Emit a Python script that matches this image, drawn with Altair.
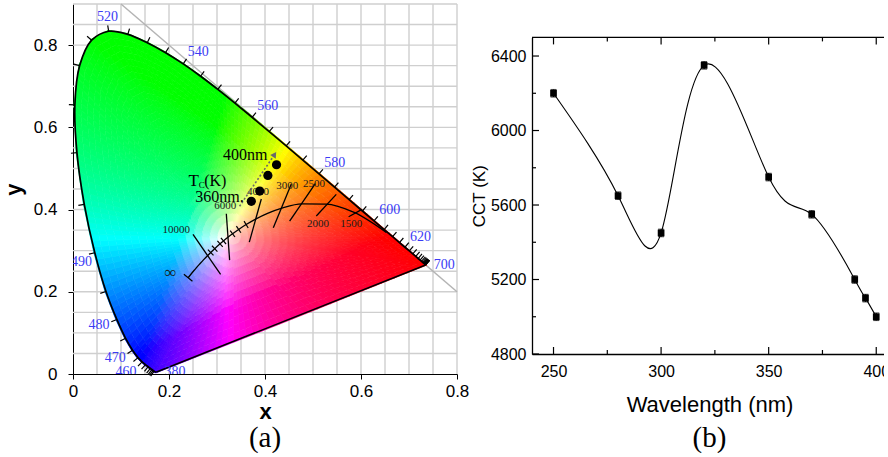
import math
import altair as alt
import pandas as pd

alt.data_transformers.disable_max_rows()

# ------------------------------------------------------------------ panel (a) data
LOCUS_WL = [380, 385, 390, 395, 400, 405, 410, 415, 420, 425, 430, 435, 440, 445, 450,
            455, 460, 465, 470, 475, 480, 485, 490, 495, 500, 505, 510, 515, 520, 525,
            530, 535, 540, 545, 550, 555, 560, 565, 570, 575, 580, 585, 590, 595, 600,
            605, 610, 615, 620, 625, 630, 635, 640, 645, 650, 655, 660, 665, 670, 675,
            680, 685, 690, 695, 700]
LOCUS_X = [0.1741, 0.1740, 0.1738, 0.1736, 0.1733, 0.1730, 0.1726, 0.1721, 0.1714, 0.1703,
           0.1689, 0.1669, 0.1644, 0.1611, 0.1566, 0.1510, 0.1440, 0.1355, 0.1241, 0.1096,
           0.0913, 0.0687, 0.0454, 0.0235, 0.0082, 0.0039, 0.0139, 0.0389, 0.0743, 0.1142,
           0.1547, 0.1929, 0.2296, 0.2658, 0.3016, 0.3373, 0.3731, 0.4087, 0.4441, 0.4788,
           0.5125, 0.5448, 0.5752, 0.6029, 0.6270, 0.6482, 0.6658, 0.6801, 0.6915, 0.7006,
           0.7079, 0.7140, 0.7190, 0.7230, 0.7260, 0.7283, 0.7300, 0.7311, 0.7320, 0.7327,
           0.7334, 0.7340, 0.7344, 0.7346, 0.7347]
LOCUS_Y = [0.0050, 0.0050, 0.0049, 0.0049, 0.0048, 0.0048, 0.0048, 0.0048, 0.0051, 0.0058,
           0.0069, 0.0086, 0.0109, 0.0138, 0.0177, 0.0227, 0.0297, 0.0399, 0.0578, 0.0868,
           0.1327, 0.2007, 0.2950, 0.4127, 0.5384, 0.6548, 0.7502, 0.8120, 0.8338, 0.8262,
           0.8059, 0.7816, 0.7543, 0.7243, 0.6923, 0.6589, 0.6245, 0.5896, 0.5547, 0.5202,
           0.4866, 0.4544, 0.4242, 0.3965, 0.3725, 0.3514, 0.3340, 0.3197, 0.3083, 0.2993,
           0.2920, 0.2859, 0.2809, 0.2770, 0.2740, 0.2717, 0.2700, 0.2689, 0.2680, 0.2673,
           0.2666, 0.2660, 0.2656, 0.2654, 0.2653]
WL_LABELS = [380, 460, 470, 480, 490, 520, 540, 560, 580, 600, 620, 700]
WL_LABEL_DIR = {380: (1.0, 0.0), 490: (-0.35, 0.65), 700: (1.0, 0.0)}
WL_TICK_FROM = 430

PLANCK_T = [1000, 1500, 2000, 2500, 3000, 3500, 4000, 4500, 5000, 5500, 6000, 6500,
            7000, 8000, 9000, 10000, 12000, 15000, 20000, 25000, None]
PLANCK_X = [0.6528, 0.5857, 0.5267, 0.4770, 0.4369, 0.4053, 0.3805, 0.3607, 0.3451,
            0.3325, 0.3221, 0.3135, 0.3064, 0.2952, 0.2869, 0.2807, 0.2718, 0.2637,
            0.2564, 0.2525, 0.2399]
PLANCK_Y = [0.3444, 0.3931, 0.4133, 0.4137, 0.4041, 0.3907, 0.3768, 0.3635, 0.3516,
            0.3411, 0.3318, 0.3237, 0.3166, 0.3048, 0.2956, 0.2884, 0.2776, 0.2672,
            0.2576, 0.2523, 0.2341]
PLANCK_MINOR = [4500, 5000, 5500, 6500, 7000, 8000, 9000]

ISO_X1 = [0.2500, 0.3194, 0.3923, 0.4548, 0.5048, 0.5485, 0.6021]
ISO_Y1 = [0.3396, 0.3898, 0.4256, 0.4621, 0.4628, 0.4370, 0.4005]
ISO_X2 = [0.3075, 0.3263, 0.3673, 0.4173, 0.4513, 0.5069, 0.5742]
ISO_Y2 = [0.2421, 0.2770, 0.3208, 0.3557, 0.3720, 0.3842, 0.3825]

TC_TEXT = ["10000", "6000", "4000", "3000", "2500", "2000", "1500"]
TC_X = [0.2152, 0.3173, 0.3854, 0.4465, 0.5021, 0.5104, 0.5798]
TC_Y = [0.3493, 0.4085, 0.4434, 0.4573, 0.4628, 0.3654, 0.3654]
INF_X, INF_Y = [0.2033], [0.2460]

SAMPLE_X = [0.3715, 0.3890, 0.4060, 0.4240]
SAMPLE_Y = [0.4200, 0.4450, 0.4830, 0.5090]
ARROW_X = [0.347, 0.420]
ARROW_Y = [0.408, 0.534]
NOTE_TEXT = ["400nm", "360nm."]
NOTE_X = [0.3590, 0.3054]
NOTE_Y = [0.5323, 0.4305]
TC_SYMBOL = ["T", "C", "(K)"]
TC_SYM_X = [0.2513, 0.2683, 0.2965]
TC_SYM_Y = [0.4694, 0.4590, 0.4694]
TC_SYM_SIZE = [17, 9, 16]

DIAG_X = [0.1, 0.8]
DIAG_Y = [0.9, 0.2]
GRID_STEP = 0.05

# ------------------------------------------------------------------ panel (b) data
WAVE = [250, 280, 300, 320, 350, 370, 390, 395, 400]
CCT = [6200, 5650, 5450, 6350, 5750, 5550, 5200, 5100, 5000]
CCT_ERR = [20, 20, 20, 20, 20, 20, 20, 20, 20]
B_YMAJOR = [4800, 5200, 5600, 6000, 6400]
B_YMINOR = [5000, 5400, 5800, 6200]
B_XMAJOR = [250, 300, 350, 400]
B_XMINOR = [275, 325, 375]

# ------------------------------------------------------------------ geometry (a)
WA, HA = 384, 370
XDOM, YDOM = [0, 0.8], [0, 0.9]
SX = WA / (XDOM[1] - XDOM[0])
SY = HA / (YDOM[1] - YDOM[0])


def pdist(a, b):
    return math.hypot((a[0] - b[0]) * SX, (a[1] - b[1]) * SY)


def normal_at(seq, i, minlen=10.0):
    n = len(seq)
    k = 1
    while True:
        a = seq[max(i - k, 0)]
        b = seq[min(i + k, n - 1)]
        d = pdist(a, b)
        if d >= minlen or (i - k <= 0 and i + k >= n - 1):
            break
        k += 1
    tx = (b[0] - a[0]) * SX / d
    ty = -(b[1] - a[1]) * SY / d
    return ty, -tx  # screen coords (y down), outward for clockwise locus


def xy_hex(x, y):
    X = x / y
    Z = (1 - x - y) / y
    r = 3.2406 * X - 1.5372 - 0.4986 * Z
    g = -0.9689 * X + 1.8758 + 0.0415 * Z
    b = 0.0557 * X - 0.2040 + 1.0570 * Z
    r, g, b = max(r, 0), max(g, 0), max(b, 0)
    m = max(r, g, b)

    def enc(v):
        v = (v / m) ** 0.75
        return int(round(255 * min(max(v, 0), 1)))
    return "#%02x%02x%02x" % (enc(r), enc(g), enc(b))


locus = list(zip(LOCUS_X, LOCUS_Y))

# colour fan (chromaticity fill) built from the locus
W0 = (0.3333, 0.3333)
ring = [locus[0]]
for p in locus[1:]:
    if pdist(p, ring[-1]) > 1.5:
        ring.append(p)
if ring[-1] != locus[-1]:
    ring.append(locus[-1])
closed = ring + [ring[0]]
B = []
for a, b in zip(closed[:-1], closed[1:]):
    n = max(1, math.ceil(pdist(a, b) / 7.0))
    for k in range(n):
        t = k / n
        B.append((a[0] + (b[0] - a[0]) * t, a[1] + (b[1] - a[1]) * t))
B.append(B[0])
fan_rows = []
q = 0
for a, b in zip(B[:-1], B[1:]):
    m = ((a[0] + b[0]) / 2, (a[1] + b[1]) / 2)
    L = pdist(W0, m)
    R = max(3, math.ceil(L / 8.0))
    for k in range(R):
        t0, t1 = k / R, (k + 1) / R
        tm = (t0 + t1) / 2
        if k == R - 1:
            t1 = 1 + 1.0 / L
        c = xy_hex(W0[0] + (m[0] - W0[0]) * tm, W0[1] + (m[1] - W0[1]) * tm)
        for o, (t, p) in enumerate([(t0, a), (t1, a), (t1, b), (t0, b)]):
            fan_rows.append({"q": q, "o": o,
                             "x": round(W0[0] + (p[0] - W0[0]) * t, 5),
                             "y": round(W0[1] + (p[1] - W0[1]) * t, 5), "c": c})
        q += 1
fan_df = pd.DataFrame(fan_rows)

outline_df = pd.DataFrame({"i": list(range(len(locus))), "x": LOCUS_X, "y": LOCUS_Y})
purple_df = pd.DataFrame({"x": [LOCUS_X[-1]], "y": [LOCUS_Y[-1]],
                          "x2": [LOCUS_X[0]], "y2": [LOCUS_Y[0]]})

tick_rows, lab_rows = [], []
for i, wl in enumerate(LOCUS_WL):
    x, y = locus[i]
    nx, ny = normal_at(locus, i)
    if wl >= WL_TICK_FROM:
        tick_rows.append({"x": x, "y": y, "x2": x + nx * 6 / SX, "y2": y - ny * 6 / SY})
    if wl in WL_LABELS:
        nx, ny = WL_LABEL_DIR.get(wl, (nx, ny))
        al = "left" if nx > 0.3 else ("right" if nx < -0.3 else "center")
        lab_rows.append({"x": x + nx * 8 / SX, "y": y - ny * 14 / SY, "t": str(wl), "a": al})
tick_df = pd.DataFrame(tick_rows)
lab_df = pd.DataFrame(lab_rows)

planck = list(zip(PLANCK_X, PLANCK_Y))
planck_df = pd.DataFrame({"i": list(range(len(planck))), "x": PLANCK_X, "y": PLANCK_Y})
pt_rows = []
for T in PLANCK_MINOR + [None]:
    i = PLANCK_T.index(T)
    nx, ny = normal_at(planck, i, minlen=3.0)
    h = 4.0 if T is not None else 5.5
    x, y = planck[i]
    pt_rows.append({"x": x - nx * h / SX, "y": y + ny * h / SY,
                    "x2": x + nx * h / SX, "y2": y - ny * h / SY})
ptick_df = pd.DataFrame(pt_rows)
iso_df = pd.DataFrame({"x": ISO_X1, "y": ISO_Y1, "x2": ISO_X2, "y2": ISO_Y2})
tc_df = pd.DataFrame({"x": TC_X, "y": TC_Y, "t": TC_TEXT})
inf_df = pd.DataFrame({"x": INF_X, "y": INF_Y, "t": ["\u221e"]})
sample_df = pd.DataFrame({"x": SAMPLE_X, "y": SAMPLE_Y})
arrow_df = pd.DataFrame({"i": [0, 1], "x": ARROW_X, "y": ARROW_Y})
ang = math.degrees(math.atan2((ARROW_X[1] - ARROW_X[0]) * SX, (ARROW_Y[1] - ARROW_Y[0]) * SY))
head_df = pd.DataFrame({"x": [ARROW_X[1]], "y": [ARROW_Y[1]]})
note_df = pd.DataFrame({"x": NOTE_X, "y": NOTE_Y, "t": NOTE_TEXT})
sym_df = pd.DataFrame({"x": TC_SYM_X, "y": TC_SYM_Y, "t": TC_SYMBOL, "s": TC_SYM_SIZE})
diag_df = pd.DataFrame({"x": [DIAG_X[0]], "y": [DIAG_Y[0]], "x2": [DIAG_X[1]], "y2": [DIAG_Y[1]]})
gx = [round(GRID_STEP * k, 4) for k in range(1, int(round(XDOM[1] / GRID_STEP)) + 1)]
gy = [round(GRID_STEP * k, 4) for k in range(1, int(round(YDOM[1] / GRID_STEP)) + 1)]
gridv_df = pd.DataFrame({"x": gx, "y": [YDOM[0]] * len(gx), "y2": [YDOM[1]] * len(gx)})
gridh_df = pd.DataFrame({"y": gy, "x": [XDOM[0]] * len(gy), "x2": [XDOM[1]] * len(gy)})

SERIF = "Liberation Serif"
SANS = "Liberation Sans"

xs = alt.Scale(domain=XDOM, nice=False, zero=False)
ys = alt.Scale(domain=YDOM, nice=False, zero=False)
AX_AX = alt.Axis(values=[0, 0.2, 0.4, 0.6, 0.8], format="~g", title="x", titleFontSize=22,
                 titleFontWeight="bold", labelFontSize=17, tickSize=5, labelPadding=4,
                 titlePadding=2, labelFlush=False)
AX_AY = alt.Axis(values=[0, 0.2, 0.4, 0.6, 0.8], format="~g", title="y", titleFontSize=22,
                 titleFontWeight="bold", labelFontSize=17, tickSize=5, labelPadding=11,
                 titlePadding=8, labelFlush=False)


def XA(f="x"):
    return alt.X(f + ":Q", scale=xs, axis=AX_AX)


def YA(f="y"):
    return alt.Y(f + ":Q", scale=ys, axis=AX_AY)


grid_v = alt.Chart(gridv_df).mark_rule(color="#cfcfcf", strokeWidth=1.4).encode(
    x=XA(), y=YA(), y2="y2:Q")
grid_h = alt.Chart(gridh_df).mark_rule(color="#cfcfcf", strokeWidth=1.4).encode(
    y=YA(), x=XA(), x2="x2:Q")
diag = alt.Chart(diag_df).mark_rule(color="#b4b4b4", strokeWidth=1.5).encode(
    x=XA(), y=YA(), x2="x2:Q", y2="y2:Q")
fan = alt.Chart(fan_df).mark_line(strokeWidth=0.8).encode(
    x=XA(), y=YA(), detail="q:N", order="o:Q",
    fill=alt.Fill("c:N", scale=None), stroke=alt.Stroke("c:N", scale=None))
outline = alt.Chart(outline_df).mark_line(color="black", strokeWidth=1.7,
                                          interpolate="catmull-rom").encode(
    x=XA(), y=YA(), order="i:Q")
purple = alt.Chart(purple_df).mark_rule(color="black", strokeWidth=1.5).encode(
    x=XA(), y=YA(), x2="x2:Q", y2="y2:Q")
wl_ticks = alt.Chart(tick_df).mark_rule(color="black", strokeWidth=1.2).encode(
    x=XA(), y=YA(), x2="x2:Q", y2="y2:Q")
wl_label_layers = [
    alt.Chart(lab_df).transform_filter(alt.datum.a == al).mark_text(
        font=SERIF, fontSize=14, color="#3b3bf5", align=al, clip=True).encode(
        x=XA(), y=YA(), text="t:N")
    for al in ["left", "center", "right"]]
planck_line = alt.Chart(planck_df).mark_line(color="black", strokeWidth=1.3,
                                              interpolate="monotone").encode(
    x=XA(), y=YA(), order="i:Q")
iso = alt.Chart(iso_df).mark_rule(color="black", strokeWidth=1.3).encode(
    x=XA(), y=YA(), x2="x2:Q", y2="y2:Q")
pticks = alt.Chart(ptick_df).mark_rule(color="black", strokeWidth=1.2).encode(
    x=XA(), y=YA(), x2="x2:Q", y2="y2:Q")
tc_labels = alt.Chart(tc_df).mark_text(font=SERIF, fontSize=11, color="#1a1a1a").encode(
    x=XA(), y=YA(), text="t:N")
inf_label = alt.Chart(inf_df).mark_text(font=SERIF, fontSize=17, color="#1a1a1a").encode(
    x=XA(), y=YA(), text="t:N")
arrow = alt.Chart(arrow_df).mark_line(color="#6a6a6a", strokeWidth=1.6,
                                      strokeDash=[2, 2]).encode(x=XA(), y=YA(), order="i:Q")
head = alt.Chart(head_df).mark_point(shape="triangle-up", filled=True, size=45,
                                     color="#6a6a6a", opacity=1, angle=ang % 360).encode(
    x=XA(), y=YA())
samples = alt.Chart(sample_df).mark_circle(size=85, color="black", opacity=1).encode(
    x=XA(), y=YA())
notes = alt.Chart(note_df).mark_text(font=SERIF, fontSize=16, color="black").encode(
    x=XA(), y=YA(), text="t:N")
sym = alt.Chart(sym_df).mark_text(font=SERIF, color="black").encode(
    x=XA(), y=YA(), text="t:N", size=alt.Size("s:Q", scale=None, legend=None))

panel_a = alt.layer(
    grid_v, grid_h, diag, fan, outline, purple, wl_ticks, *wl_label_layers, planck_line,
    iso, pticks, tc_labels, inf_label, arrow, head, samples, notes, sym
).properties(
    width=WA, height=HA,
    title=alt.TitleParams("(a)", orient="bottom", font=SERIF, fontSize=29,
                          fontWeight="normal", offset=2, anchor="middle"))

# ------------------------------------------------------------------ panel (b)
WB, HB = 355, 350
TOPB = 33.4
df_b = pd.DataFrame({"wl": WAVE, "cct": CCT,
                     "lo": [c - e for c, e in zip(CCT, CCT_ERR)],
                     "hi": [c + e for c, e in zip(CCT, CCT_ERR)]})
xsb = alt.Scale(domain=[240, 405], nice=False, zero=False)
ysb = alt.Scale(domain=[4800, 6500], range=[HB, TOPB], nice=False, zero=False)
AX_BX = alt.Axis(values=B_XMAJOR, title="Wavelength (nm)", titleFontSize=22,
                 titleFontWeight="normal", labelFontSize=16, ticks=False, tickSize=0,
                 labelPadding=9, titlePadding=15, labelFlush=False, domainWidth=1.3)
AX_BY = alt.Axis(values=B_YMAJOR, format="d", title="CCT (K)", titleFontSize=17,
                 titleFontWeight="normal", labelFontSize=16, ticks=False, tickSize=0,
                 labelPadding=6, titlePadding=2, labelFlush=False, domainWidth=1.3)


def XB(f="wl"):
    return alt.X(f + ":Q", scale=xsb, axis=AX_BX)


def YB(f="cct"):
    return alt.Y(f + ":Q", scale=ysb, axis=AX_BY)


line_b = alt.Chart(df_b).mark_line(color="black", strokeWidth=1.1,
                                   interpolate="natural").encode(x=XB(), y=YB())
err_b = alt.Chart(df_b).mark_errorbar(ticks=True, size=6, thickness=1.2, color="black").encode(
    x=XB(), y=YB("lo"), y2="hi:Q")
pts_b = alt.Chart(df_b).mark_square(size=45, color="black", opacity=1).encode(x=XB(), y=YB())

ymaj = pd.DataFrame({"v": B_YMAJOR})
ymin = pd.DataFrame({"v": B_YMINOR})
xmaj = pd.DataFrame({"v": B_XMAJOR})
xmin = pd.DataFrame({"v": B_XMINOR})


def yticks(df, L):
    return alt.Chart(df).mark_rule(color="black", strokeWidth=1.2).encode(
        y=YB("v"), x=alt.value(0), x2=alt.value(L))


def xticks(df, y0, L):
    return alt.Chart(df).mark_rule(color="black", strokeWidth=1.2).encode(
        x=XB("v"), y=alt.value(y0), y2=alt.value(y0 + L))


top_frame = alt.Chart(pd.DataFrame({"v": [0]})).mark_rule(color="black", strokeWidth=1.3).encode(
    y=alt.value(TOPB), x=alt.value(0), x2=alt.value(WB))

panel_b = alt.layer(
    line_b, top_frame, yticks(ymaj, 7), yticks(ymin, 4),
    xticks(xmaj, HB, -7), xticks(xmin, HB, -4),
    xticks(xmaj, TOPB, 7), xticks(xmin, TOPB, 4),
    err_b, pts_b
).properties(
    width=WB, height=HB,
    title=alt.TitleParams("(b)", orient="bottom", font=SERIF, fontSize=29,
                          fontWeight="normal", offset=9, anchor="middle"))

chart = alt.hconcat(panel_a, panel_b, spacing=1).properties(
    padding={"left": 2, "top": 3, "right": -6, "bottom": 0}
).configure_view(stroke=None).configure_axis(
    labelFont=SANS, titleFont=SANS, labelColor="black", titleColor="black",
    domainColor="black", tickColor="black", grid=False, labelOverlap=False)

chart.save("out.html", embed_options={"renderer": "svg", "actions": False})
